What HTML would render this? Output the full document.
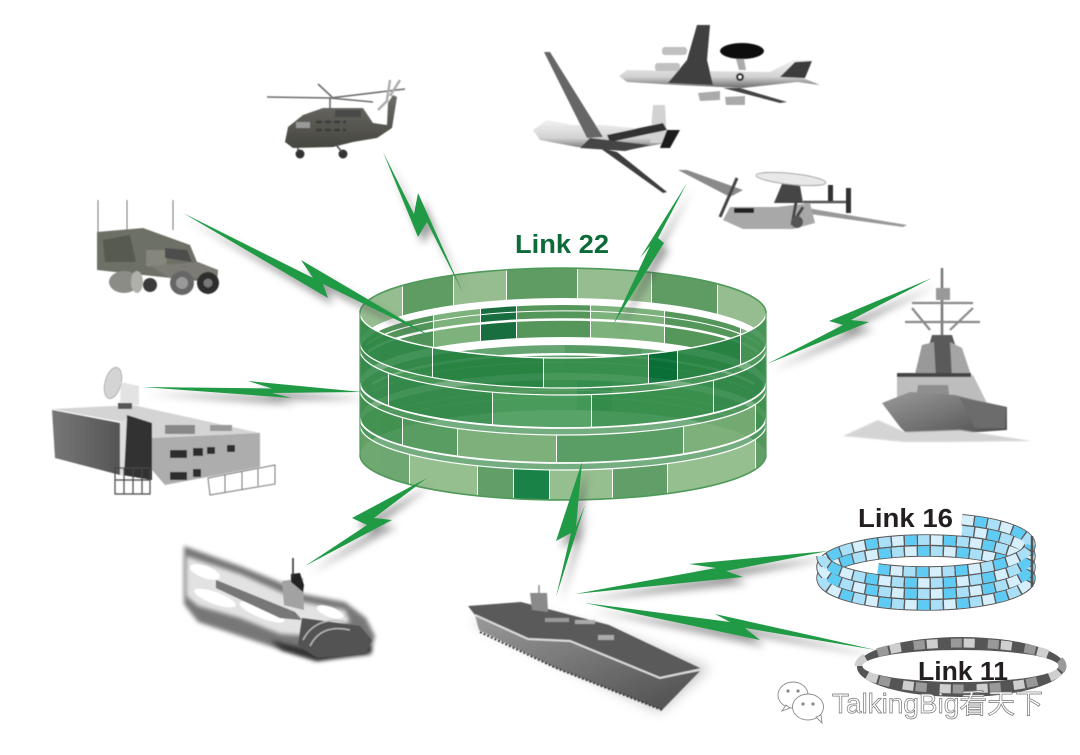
<!DOCTYPE html>
<html><head><meta charset="utf-8"><style>
html,body{margin:0;padding:0;background:#fff;width:1080px;height:755px;overflow:hidden}
svg{display:block}
text{font-family:"Liberation Sans","Noto Sans CJK SC",sans-serif}
</style></head><body>
<svg width="1080" height="755" viewBox="0 0 1080 755" xmlns="http://www.w3.org/2000/svg">
<defs>
<filter id="s1" x="-30%" y="-30%" width="160%" height="160%"><feGaussianBlur stdDeviation="0.6"/></filter>
<filter id="s2" x="-30%" y="-30%" width="160%" height="160%"><feGaussianBlur stdDeviation="2.2"/></filter>
<filter id="s4" x="-30%" y="-60%" width="160%" height="220%"><feGaussianBlur stdDeviation="4"/></filter>
<filter id="s8" x="-30%" y="-30%" width="160%" height="160%"><feGaussianBlur stdDeviation="6"/></filter>
<linearGradient id="hull" x1="0" y1="0" x2="1" y2="1"><stop offset="0" stop-color="#9a9a9a"/><stop offset="1" stop-color="#4c4c4c"/></linearGradient>
<linearGradient id="heli" x1="0" y1="0" x2="0" y2="1"><stop offset="0" stop-color="#6e6e68"/><stop offset="1" stop-color="#46463f"/></linearGradient>
<linearGradient id="fus" x1="0" y1="0" x2="0" y2="1"><stop offset="0" stop-color="#f2f2f2"/><stop offset=".6" stop-color="#d2d2d2"/><stop offset="1" stop-color="#6a6a6a"/></linearGradient>
<linearGradient id="wall" x1="0" y1="0" x2="1" y2="0"><stop offset="0" stop-color="#777"/><stop offset="1" stop-color="#555"/></linearGradient>
<clipPath id="side"><rect x="360" y="260" width="406" height="250"/></clipPath>
<clipPath id="fA"><path d="M360,313A203,45 0 0 0 766,313V343A203,45 0 0 1 360,343Z"/></clipPath>
<clipPath id="bA"><path d="M360,313A203,45 0 0 1 766,313V343A203,45 0 0 0 360,343Z"/></clipPath>
<clipPath id="fB"><path d="M360,350A203,45 0 0 0 766,350V383A203,45 0 0 1 360,383Z"/></clipPath>
<clipPath id="bB"><path d="M360,350A203,45 0 0 1 766,350V382A203,45 0 0 0 360,382Z"/></clipPath>
<clipPath id="fC"><path d="M360,390A203,45 0 0 0 766,390V418A203,45 0 0 1 360,418Z"/></clipPath>
<clipPath id="bC"><path d="M360,390A203,45 0 0 1 766,390V418A203,45 0 0 0 360,418Z"/></clipPath>
<clipPath id="fD"><path d="M360,425A203,45 0 0 0 766,425V455A203,45 0 0 1 360,455Z"/></clipPath>
<clipPath id="bD"><path d="M360,425A203,45 0 0 1 766,425V455A203,45 0 0 0 360,455Z"/></clipPath>
<polygon id="b1" points="383,152 414,214 418,193 463,293 427,222 418,237"/>
<polygon id="b2" points="183,213 313,278 301,260 432,337 323,284 328,298"/>
<polygon id="b3" points="142,387 272,388.5 248,381 362,392 272,393 292,398"/>
<polygon id="b4" points="305,566 367,525 352,518 427,478 374,518 392,520"/>
<polygon id="b5" points="556,597 571,533 556,541 582,462 576,527 585,505"/>
<polygon id="b6" points="687,183 658,238 664,243 613,325 650,246 640,258"/>
<polygon id="b7" points="932,278 829,321 851,320 869,322 767,364 843,325 829,321 851,320"/>
<polygon id="b8" points="575,594 716,568 689,564 828,551 726,571 743,577"/>
<polygon id="b9" points="585,603 730,622 715,614 876,650 745,628 760,640"/>
</defs>
<rect width="1080" height="755" fill="#fff"/>

<!-- Cylinder: back walls -->
<g clip-path="url(#bD)" opacity=".85">
<rect x="355" y="370" width="222" height="100" fill="#5fa268"/><rect x="577" y="370" width="35" height="100" fill="#0f7a3e"/><rect x="612" y="370" width="160" height="100" fill="#5fa268"/>
</g>
<g clip-path="url(#bC)" opacity=".85">
<rect x="355" y="330" width="210" height="100" fill="#4b965a"/><rect x="565" y="330" width="77" height="100" fill="#3a8a49"/><rect x="642" y="330" width="130" height="100" fill="#4b965a"/>
</g>
<g clip-path="url(#bB)" opacity=".9">
<rect x="355" y="295" width="78" height="100" fill="#3f8a49"/><rect x="433" y="295" width="47" height="100" fill="#6faa6e"/><rect x="480" y="295" width="36" height="100" fill="#005f2c"/><rect x="516" y="295" width="74" height="100" fill="#438b49"/><rect x="590" y="295" width="74" height="100" fill="#6faa6e"/><rect x="664" y="295" width="76" height="100" fill="#438b49"/><rect x="740" y="295" width="30" height="100" fill="#6faa6e"/>
<rect x="433" y="295" width="1" height="100" fill="#fff"/><rect x="480" y="295" width="1" height="100" fill="#fff"/><rect x="516" y="295" width="1" height="100" fill="#fff"/><rect x="590" y="295" width="1" height="100" fill="#fff"/><rect x="664" y="295" width="1" height="100" fill="#fff"/><rect x="740" y="295" width="1" height="100" fill="#fff"/>
</g>
<g clip-path="url(#bA)" opacity=".85">
<rect x="355" y="260" width="47" height="90" fill="#84b27c"/><rect x="402" y="260" width="51" height="90" fill="#438b49"/><rect x="453" y="260" width="53" height="90" fill="#84b27c"/><rect x="506" y="260" width="71" height="90" fill="#438b49"/><rect x="577" y="260" width="74" height="90" fill="#84b27c"/><rect x="651" y="260" width="66" height="90" fill="#438b49"/><rect x="717" y="260" width="55" height="90" fill="#84b27c"/>
<rect x="402" y="260" width="1" height="90" fill="#fff"/><rect x="453" y="260" width="1" height="90" fill="#fff"/><rect x="506" y="260" width="1" height="90" fill="#fff"/><rect x="577" y="260" width="1" height="90" fill="#fff"/><rect x="651" y="260" width="1" height="90" fill="#fff"/><rect x="717" y="260" width="1" height="90" fill="#fff"/>
</g>
<!-- back rim whites -->
<g fill="none" stroke="#fff">
<path d="M366,345A203,45 0 0 1 760,345" stroke-width="1"/>
<path d="M368,352A203,45 0 0 1 758,352" stroke-width="2.5"/>
<path d="M372,384A203,45 0 0 1 754,384" stroke-width="2.5"/>
<path d="M372,392A203,45 0 0 1 754,392" stroke-width="1" opacity=".5"/>
<path d="M372,420A203,45 0 0 1 754,420" stroke-width="1" opacity=".4"/>
<path d="M372,427A203,45 0 0 1 754,427" stroke-width="1" opacity=".4"/>
</g>

<!-- gap fills (front bands joined) -->
<g clip-path="url(#side)">
<g fill="none" stroke="#3f9050" stroke-width="7" opacity=".72">
<path d="M360,346.5A203,45 0 0 0 766,346.5"/>
<path d="M360,386.5A203,45 0 0 0 766,386.5"/>
<path d="M360,421.5A203,45 0 0 0 766,421.5"/>
</g>
</g>

<!-- Cylinder: front walls -->
<g clip-path="url(#fD)" opacity=".9">
<rect x="355" y="420" width="54" height="90" fill="#5f9e62"/><rect x="409" y="420" width="68" height="90" fill="#8bb884"/><rect x="477" y="420" width="36" height="90" fill="#529558"/><rect x="513" y="420" width="36" height="90" fill="#007534"/><rect x="549" y="420" width="63" height="90" fill="#8bb884"/><rect x="612" y="420" width="55" height="90" fill="#529558"/><rect x="667" y="420" width="88" height="90" fill="#8bb884"/><rect x="755" y="420" width="15" height="90" fill="#529558"/>
<rect x="409" y="420" width="1" height="90" fill="#fff"/><rect x="477" y="420" width="1" height="90" fill="#fff"/><rect x="513" y="420" width="1" height="90" fill="#fff"/><rect x="549" y="420" width="1" height="90" fill="#fff"/><rect x="612" y="420" width="1" height="90" fill="#fff"/><rect x="667" y="420" width="1" height="90" fill="#fff"/><rect x="755" y="420" width="1" height="90" fill="#fff"/>
</g>
<g clip-path="url(#fC)" opacity=".92">
<rect x="355" y="385" width="47" height="90" fill="#3f8f4d"/><rect x="402" y="385" width="55" height="90" fill="#4d9556"/><rect x="457" y="385" width="99" height="90" fill="#72aa70"/><rect x="556" y="385" width="127" height="90" fill="#4d965a"/><rect x="683" y="385" width="72" height="90" fill="#72aa70"/><rect x="755" y="385" width="15" height="90" fill="#3f8f4d"/>
<rect x="402" y="385" width="1" height="90" fill="#fff"/><rect x="457" y="385" width="1" height="90" fill="#fff"/><rect x="556" y="385" width="1" height="90" fill="#fff"/><rect x="683" y="385" width="1" height="90" fill="#fff"/><rect x="755" y="385" width="1" height="90" fill="#fff"/>
</g>
<g clip-path="url(#fB)" opacity=".9">
<rect x="355" y="345" width="33" height="90" fill="#34894a"/><rect x="388" y="345" width="104" height="90" fill="#2f8746"/><rect x="492" y="345" width="99" height="90" fill="#459a58"/><rect x="591" y="345" width="122" height="90" fill="#348c49"/><rect x="713" y="345" width="48" height="90" fill="#2f8746"/><rect x="761" y="345" width="9" height="90" fill="#34894a"/>
<rect x="388" y="345" width="1" height="90" fill="#fff"/><rect x="492" y="345" width="1" height="90" fill="#fff"/><rect x="591" y="345" width="1" height="90" fill="#fff"/><rect x="713" y="345" width="1" height="90" fill="#fff"/>
</g>
<g clip-path="url(#fA)" opacity=".9">
<rect x="355" y="308" width="77" height="90" fill="#2f8746"/><rect x="432" y="308" width="111" height="90" fill="#23803f"/><rect x="543" y="308" width="105" height="90" fill="#358d4b"/><rect x="648" y="308" width="29" height="90" fill="#006a30"/><rect x="677" y="308" width="63" height="90" fill="#23803f"/><rect x="740" y="308" width="30" height="90" fill="#3f9050"/>
<rect x="432" y="308" width="1" height="90" fill="#fff"/><rect x="543" y="308" width="1" height="90" fill="#fff"/><rect x="648" y="308" width="1" height="90" fill="#fff"/><rect x="677" y="308" width="1" height="90" fill="#fff"/><rect x="740" y="308" width="1" height="90" fill="#fff"/>
</g>
<!-- front rim lines -->
<g fill="none" stroke="#fff" clip-path="url(#side)">
<path d="M360,313A203,45 0 0 0 766,313" stroke-width="1.4"/>
<path d="M360,343A203,45 0 0 0 766,343" stroke-width="1.2"/>
<path d="M360,350A203,45 0 0 0 766,350" stroke-width="1.2"/>
<path d="M360,383A203,45 0 0 0 766,383" stroke-width="1.8"/>
<path d="M360,390A203,45 0 0 0 766,390" stroke-width="1.2"/>
<path d="M360,418A203,45 0 0 0 766,418" stroke-width="1.8"/>
<path d="M360,425A203,45 0 0 0 766,425" stroke-width="1.2"/>
</g>
<g fill="none" stroke="#4f9a5a" stroke-width="1.6">
<path d="M360,313A203,45 0 0 1 766,313"/>
<path d="M360,455A203,45 0 0 0 766,455"/>
<path d="M360,313V455M766,313V455" stroke-width="1.2"/>
</g>

<!-- Bolt shadows -->
<g filter="url(#s4)" fill="#555" opacity=".55" transform="translate(5,7)">
<use href="#b1"/><use href="#b2"/><use href="#b3"/><use href="#b4"/><use href="#b5"/><use href="#b6"/><use href="#b7"/><use href="#b8"/><use href="#b9"/>
</g>
<g fill="#219a46">
<use href="#b1"/><use href="#b2"/><use href="#b3"/><use href="#b4"/><use href="#b5"/><use href="#b6"/><use href="#b7"/><use href="#b8"/><use href="#b9"/>
</g>

<!-- Helicopter -->
<g filter="url(#s1)">
<polygon points="285,142 288,127 303,115 323,108 363,108 373,123 387,125 388,103 393,95 397,97 392,128 377,138 353,142 333,147 293,148" fill="url(#heli)"/>
<path d="M267,97L330,98 M330,98L405,89 M330,98L373,102 M318,84L332,97 M330,98V108" stroke="#6a6a6a" stroke-width="1.6" fill="none"/>
<path d="M387,100L390,80 M390,96L400,80 M388,100L378,110" stroke="#aaa" stroke-width="2.4"/>
<circle cx="300" cy="154" r="4.5" fill="#333"/><circle cx="343" cy="154" r="4.5" fill="#333"/>
<path d="M298,148V152M337,146L342,152" stroke="#444" stroke-width="1.5"/>
<rect x="296" y="122" width="14" height="6" fill="#999"/><rect x="335" y="110" width="26" height="7" fill="#4a4a4a"/>
<path d="M316,122H346M316,130H346" stroke="#3c3c3c" stroke-width="3" stroke-dasharray="6 3"/>
</g>

<!-- Humvee -->
<g filter="url(#s1)">
<path d="M98,200V232M127,200V230M173,200V230" stroke="#777" stroke-width="1"/>
<polygon points="97,232 143,228 190,245 197,262 218,270 217,283 97,270" fill="#6d7065"/>
<polygon points="103,240 130,235 136,262 105,262" fill="#575a50"/>
<polygon points="146,250 168,250 166,268 146,266" fill="#85877b"/>
<polygon points="165,248 187,250 192,262 165,258" fill="#4e4e4e"/>
<polygon points="150,266 198,262 218,270 216,278 170,278" fill="#7b7b74"/>
<ellipse cx="124" cy="282" rx="15" ry="11" fill="#8c8c87"/>
<ellipse cx="137" cy="282" rx="6" ry="11" fill="#b0b0aa"/>
<circle cx="150" cy="285" r="7" fill="#3a3a3a"/>
<circle cx="182" cy="283" r="12" fill="#666"/><circle cx="182" cy="283" r="6" fill="#999"/>
<circle cx="208" cy="283" r="11" fill="#2e2e2e"/><circle cx="208" cy="283" r="4.5" fill="#777"/>
</g>

<!-- Building -->
<g filter="url(#s1)">
<polygon points="52,409 133,405 260,433 152,438 122,422" fill="#d4d4d4"/>
<polygon points="52,410 120,423 120,475 55,458" fill="url(#wall)"/>
<polygon points="152,438 260,433 260,467 165,485 152,470" fill="#adadad"/>
<polygon points="127,415 152,423 152,480 122,475" fill="#333"/>
<polygon points="120,423 127,418 124,476 120,475" fill="#ddd"/>
<g fill="#2e2e2e"><rect x="170" y="450" width="17" height="8"/><rect x="193" y="448" width="10" height="8"/><rect x="207" y="447" width="8" height="7"/><rect x="227" y="445" width="8" height="7"/><rect x="170" y="472" width="17" height="8"/><rect x="193" y="469" width="8" height="8"/></g>
<ellipse cx="113" cy="383" rx="8" ry="16" transform="rotate(15 113 383)" fill="#d4d4d4" stroke="#999" stroke-width=".7"/>
<polygon points="121,382 139,386 139,405 120,403" fill="#e3e3e3"/>
<rect x="118" y="403" width="14" height="6" fill="#555"/>
<path d="M115,468H150V494H115ZM115,480H150M124,468V494M133,468V494M142,468V494" fill="none" stroke="#444" stroke-width="1.2"/>
<path d="M208,478L275,465V484L210,495ZM225,475V492M242,472V490M258,469V486" fill="none" stroke="#777" stroke-width="1"/>
<rect x="165" y="425" width="30" height="9" fill="#888"/><rect x="210" y="425" width="22" height="6" fill="#999"/>
</g>

<!-- Submarine -->
<g>
<polygon points="184,546 240,566 282,583 303,594 345,602 366,618 375,636 370,655 317,660 282,650 240,636 198,622 184,604" fill="#777" filter="url(#s2)"/>
<polygon points="186,556 240,574 303,602 345,610 350,622 310,636 280,634 240,618 198,606 186,596" fill="#e2e2e2" filter="url(#s2)"/>
<g fill="#fff" filter="url(#s1)">
<ellipse cx="205" cy="572" rx="16" ry="6" transform="rotate(20 205 572)"/>
<ellipse cx="215" cy="598" rx="22" ry="6" transform="rotate(20 215 598)"/>
<ellipse cx="262" cy="612" rx="24" ry="6" transform="rotate(22 262 612)"/>
<ellipse cx="330" cy="612" rx="14" ry="5" transform="rotate(20 330 612)"/>
</g>
<polygon points="270,640 320,652 370,645 372,652 317,661 282,650" fill="#333" filter="url(#s2)"/>
<g filter="url(#s1)">
<polygon points="216,580 295,612 302,620 280,618 216,588" fill="#777"/>
<polygon points="302,618 360,626 372,640 366,654 317,658 298,645" fill="#525252"/>
<path d="M303,640C312,622 330,618 345,622M310,646C318,630 332,626 350,630" stroke="#bbb" stroke-width="1.4" fill="none"/>
<polygon points="282,581 303,578 304,610 284,605" fill="#a2a2a2"/>
<polygon points="291,574 300,573 304,585 303,592 291,582" fill="#222"/>
<path d="M293,558V578" stroke="#333" stroke-width="1.6"/>
</g>
</g>

<!-- Carrier -->
<g>
<polygon points="472,622 530,650 660,712 710,668 610,630 520,610" fill="#888" opacity=".45" filter="url(#s8)"/>
<g filter="url(#s1)">
<polygon points="475,615 528,639 570,641 660,678 700,671 662,710 556,668 479,630" fill="url(#hull)"/>
<polygon points="468,606 521,602 609,625 702,669 660,678 570,641 528,639 475,615" fill="#5a5a5a"/>
<path d="M475,615L528,639L570,641L660,678L702,669" fill="none" stroke="#ddd" stroke-width="2"/>
<polygon points="530,593 547,593 548,612 532,610" fill="#8a8a8a"/>
<path d="M539,593V585" stroke="#888" stroke-width="1.5"/>
<rect x="598" y="635" width="16" height="5" fill="#aaa"/><rect x="545" y="618" width="24" height="4" fill="#999"/><rect x="575" y="620" width="20" height="4" fill="#aaa"/>
<path d="M480,632L556,668L662,710" stroke="#333" stroke-width="2" stroke-dasharray="2 2" fill="none"/>
</g>
</g>

<!-- Destroyer -->
<g filter="url(#s1)">
<path d="M942,268V340" stroke="#777" stroke-width="2.5"/>
<polygon points="932,335 952,335 966,378 920,378" fill="#5a5a5a"/>
<polygon points="922,345 934,342 936,378 914,378" fill="#999"/>
<polygon points="950,342 962,348 972,378 952,378" fill="#a5a5a5"/>
<path d="M912,303H973M905,322H980M942,303L918,303M930,330L912,308M950,330L973,308" stroke="#888" stroke-width="2.2" fill="none"/>
<rect x="936" y="288" width="14" height="12" fill="#999"/>
<polygon points="897,375 973,375 987,403 897,403" fill="#bdbdbd"/>
<rect x="897" y="373" width="74" height="4" fill="#444"/>
<polygon points="918,385 948,385 950,403 915,403" fill="#8e8e8e"/>
<polygon points="882,403 910,392 955,395 975,400 1007,407 1007,430 910,437 900,427" fill="url(#hull)"/>
<polygon points="960,398 1005,408 1005,428 975,428" fill="#6c6c6c"/>
<polygon points="843,436 878,420 905,432 960,430 1032,441 950,442 905,442" fill="#d4d4d4" filter="url(#s1)"/>
</g>

<!-- AWACS -->
<g filter="url(#s1)">
<polygon points="698,93 720,91 720,100 700,101" fill="#aaa"/><polygon points="725,97 745,96 745,105 726,105" fill="#aaa"/>
<polygon points="723,88 740,88 787,102 780,103" fill="#444"/>
<polygon points="619,76 627,70 770,72 793,60 812,60 803,78 820,85 797,82 743,88 677,85 627,82" fill="url(#fus)"/>
<polygon points="697,25 710,25 707,60 713,85 668,83 687,60" fill="#3f3f3f"/>
<rect x="662" y="47" width="25" height="8" rx="3" fill="#c0c0c0"/><rect x="655" y="63" width="25" height="8" rx="3" fill="#c0c0c0"/>
<polygon points="780,77 795,62 812,61 805,78" fill="#3c3c3c"/>
<polygon points="733,48 742,48 746,70 739,70" fill="#aaa"/>
<ellipse cx="742" cy="51" rx="22" ry="8" fill="#0e0e0e"/>
<circle cx="740" cy="77" r="4" fill="#333"/><circle cx="740" cy="77" r="1.6" fill="#fff"/>
</g>

<!-- Global Hawk -->
<g filter="url(#s1)">
<polygon points="533,130 547,120 573,125 603,125 653,130 667,143 627,150 577,147 540,140" fill="url(#fus)"/>
<polygon points="653,105 665,105 667,143 650,143" fill="#d2d2d2"/>
<polygon points="667,130 680,130 670,148 660,148" fill="#1e1e1e"/>
<polygon points="544,52 550,52 603,137 587,138" fill="#666"/>
<polygon points="600,148 617,152 667,192 663,193" fill="#3d3d3d"/>
<polygon points="607,135 663,123 667,130 610,142" fill="#333"/>
<polygon points="590,138 650,145 625,151 580,148" fill="#444"/>
</g>

<!-- E-2 -->
<g filter="url(#s1)">
<polygon points="678,170 687,170 743,190 730,197" fill="#8a8a8a"/>
<polygon points="807,208 907,225 903,227 803,213" fill="#999"/>
<path d="M803,202H850" stroke="#555" stroke-width="2.5"/>
<rect x="828" y="185" width="5" height="16" fill="#333"/><rect x="846" y="188" width="5" height="25" fill="#333"/>
<polygon points="782,184 800,186 803,203 774,203" fill="#444"/>
<ellipse cx="791" cy="179" rx="35" ry="5.5" transform="rotate(6 791 179)" fill="#e8e8e8" stroke="#888" stroke-width=".8"/>
<polygon points="723,220 730,207 777,207 810,203 815,223 793,229 743,229" fill="#a8a8a8"/>
<rect x="734" y="208" width="20" height="5" fill="#222"/>
<path d="M737,178L720,217M797,197L792,225M803,207L793,223" stroke="#444" stroke-width="3"/>
<circle cx="797" cy="222" r="6" fill="#555"/>
</g>

<!-- Labels main -->
<text x="515" y="253" font-size="25.5" font-weight="bold" fill="#0d6b3a" textLength="94" lengthAdjust="spacingAndGlyphs">Link 22</text>

<!-- Link 16 ring -->
<g fill="none">
<g stroke="#5a5a5a" stroke-width="11.5">
<path d="M822,567A104,27 0 0 1 1030,567"/><path d="M822,578A104,27 0 0 1 1030,578"/>
<path d="M962,519.7A104,27 0 0 1 1030,545"/><path d="M962,530.7A104,27 0 0 1 1030,556"/>
</g>
<g stroke-width="9.5" stroke="#d6effc" stroke-dasharray="11.5 1.5">
<path d="M822,567A104,27 0 0 1 1030,567"/><path d="M822,578A104,27 0 0 1 1030,578"/>
<path d="M962,519.7A104,27 0 0 1 1030,545"/><path d="M962,530.7A104,27 0 0 1 1030,556"/>
</g>
<g stroke-width="9.5" stroke="#a9dff7" stroke-dasharray="11.5 27.5">
<path d="M822,567A104,27 0 0 1 1030,567" stroke-dashoffset="13"/><path d="M822,578A104,27 0 0 1 1030,578"/>
<path d="M962,519.7A104,27 0 0 1 1030,545" stroke-dashoffset="13"/><path d="M962,530.7A104,27 0 0 1 1030,556"/>
</g>
<g stroke-width="9.5" stroke="#5ecbf4" stroke-dasharray="11.5 27.5">
<path d="M822,567A104,27 0 0 1 1030,567" stroke-dashoffset="26"/><path d="M822,578A104,27 0 0 1 1030,578" stroke-dashoffset="13"/>
<path d="M962,519.7A104,27 0 0 1 1030,545" stroke-dashoffset="26"/><path d="M962,530.7A104,27 0 0 1 1030,556" stroke-dashoffset="13"/>
</g>
<!-- front -->
<g stroke="#5a5a5a" stroke-width="11.5">
<path d="M878,569A104,27 0 0 0 1030,545"/><path d="M822,556A104,27 0 0 0 1030,556"/>
<path d="M822,567A104,27 0 0 0 1030,567"/><path d="M822,578A104,27 0 0 0 1030,578"/>
</g>
<g stroke-width="9.5" stroke="#d6effc" stroke-dasharray="11.5 1.5">
<path d="M878,569A104,27 0 0 0 1030,545"/><path d="M822,556A104,27 0 0 0 1030,556"/>
<path d="M822,567A104,27 0 0 0 1030,567"/><path d="M822,578A104,27 0 0 0 1030,578"/>
</g>
<g stroke-width="9.5" stroke="#a9dff7" stroke-dasharray="11.5 27.5">
<path d="M878,569A104,27 0 0 0 1030,545" stroke-dashoffset="13"/><path d="M822,556A104,27 0 0 0 1030,556"/>
<path d="M822,567A104,27 0 0 0 1030,567" stroke-dashoffset="13"/><path d="M822,578A104,27 0 0 0 1030,578"/>
</g>
<g stroke-width="9.5" stroke="#5ecbf4" stroke-dasharray="11.5 27.5">
<path d="M878,569A104,27 0 0 0 1030,545"/><path d="M822,556A104,27 0 0 0 1030,556" stroke-dashoffset="26"/>
<path d="M822,567A104,27 0 0 0 1030,567" stroke-dashoffset="26"/><path d="M822,578A104,27 0 0 0 1030,578" stroke-dashoffset="13"/>
</g>
<path d="M1032,536V587" stroke="#555" stroke-width="2.5"/>
</g>
<rect x="850" y="505" width="110" height="26" fill="#fff"/>
<text x="858" y="527" font-size="25.5" font-weight="bold" fill="#231f20" textLength="95" lengthAdjust="spacingAndGlyphs">Link 16</text>

<!-- Link 11 ring -->
<ellipse cx="961" cy="667" rx="104" ry="30" fill="#555"/>
<g fill="none" stroke-width="9">
<path d="M859,666A101.5,23 0 1 1 1062,666A101.5,23 0 1 1 859,666Z" stroke="#cfcfcf" stroke-dasharray="11 26"/>
<path d="M859,666A101.5,23 0 1 1 1062,666A101.5,23 0 1 1 859,666Z" stroke="#999" stroke-dasharray="11 26" stroke-dashoffset="13"/>
</g>
<ellipse cx="960.5" cy="666" rx="98" ry="16" fill="#fff"/>
<text x="918" y="680" font-size="25.5" font-weight="bold" fill="#231f20" textLength="90" lengthAdjust="spacingAndGlyphs">Link 11</text>

<!-- Watermark -->
<g fill="#fff" stroke="#8a8a8a" stroke-width=".9">
<ellipse cx="793" cy="695" rx="15" ry="13"/>
<path d="M786,705l-4,6 8,-3z"/>
<ellipse cx="808" cy="707" rx="15.5" ry="13"/>
<path d="M816,717l6,6 -1,-8z"/>
</g>
<g fill="#8a8a8a"><circle cx="788" cy="691" r="1.6"/><circle cx="798" cy="691" r="1.6"/><circle cx="803" cy="704" r="1.6"/><circle cx="813" cy="704" r="1.6"/></g>
<text x="832" y="713" font-size="27.5" fill="#fff" stroke="#777" stroke-width=".7" textLength="211" lengthAdjust="spacingAndGlyphs">TalkingBig看天下</text>
</svg>
</body></html>
